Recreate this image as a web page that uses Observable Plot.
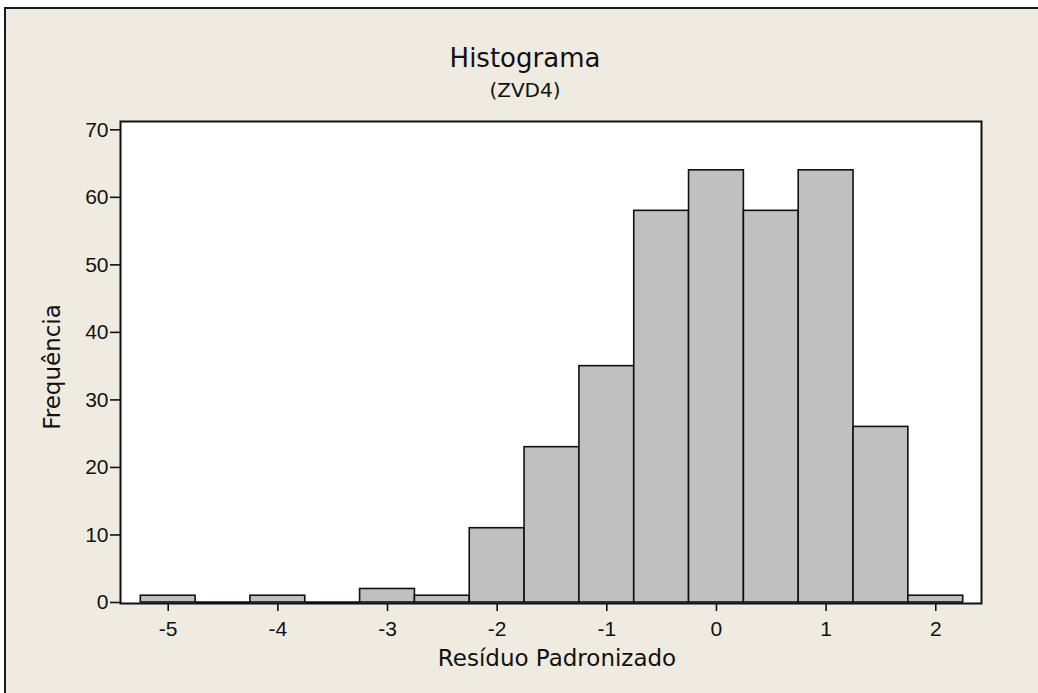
<!DOCTYPE html>
<html>
<head>
<meta charset="utf-8">
<script src="https://cdn.jsdelivr.net/npm/d3@7"></script>
<script src="https://cdn.jsdelivr.net/npm/@observablehq/plot@0.6"></script>
<style>
  html, body { margin: 0; padding: 0; background: #ffffff; }
  #page { position: relative; width: 1038px; height: 693px; overflow: hidden; }
  #panel { position: absolute; left: 4px; top: 7px; width: 1100px; height: 760px;
           background: #efebe0; border-left: 2px solid #1a1a1a; border-top: 2px solid #1a1a1a; box-sizing: border-box; }
  #chart { position: absolute; left: 0; top: 0; }
  .txt { position: absolute; font-family: "DejaVu Sans", sans-serif; color: #111; line-height: 1; white-space: nowrap; }
  #title { font-size: 26px; left: 525px; top: 45px; transform: translateX(-50%); }
  #subtitle { font-size: 20px; left: 525px; top: 80px; transform: translateX(-50%); }
  #xlabel { font-size: 23px; left: 557px; top: 647px; transform: translateX(-50%); }
  #ylabel { font-size: 23px; left: 52px; top: 367px; transform: translate(-50%, -50%) rotate(-90deg); }
</style>
</head>
<body>
<div id="page">
  <div id="panel"></div>
  <div id="chart"></div>
  <div class="txt" id="title">Histograma</div>
  <div class="txt" id="subtitle">(ZVD4)</div>
  <div class="txt" id="xlabel">Resíduo Padronizado</div>
  <div class="txt" id="ylabel">Frequência</div>
</div>
<script>
// Data (bin centers, width 0.5)
const binCenters = [-5, -4.5, -4, -3.5, -3, -2.5, -2, -1.5, -1, -0.5, 0, 0.5, 1, 1.5, 2];
const counts     = [ 1,  0,    1,  0,    2,  1,   11,  23,  35,  58,  64, 58, 64, 26,  1];
const binWidth = 0.5;
const xTicks = [-5, -4, -3, -2, -1, 0, 1, 2];
const yTicks = [0, 10, 20, 30, 40, 50, 60, 70];

const bins = binCenters.map((c, i) => ({x1: c - binWidth / 2, x2: c + binWidth / 2, count: counts[i]}));
const nonZero = bins.filter(d => d.count > 0);
const zero = bins.filter(d => d.count === 0);

const chart = Plot.plot({
  width: 1038,
  height: 693,
  marginLeft: 120,
  marginRight: 57,
  marginTop: 121,
  marginBottom: 90,
  style: {background: "transparent", fontFamily: "'Liberation Sans', sans-serif", fontSize: "21px", color: "#111"},
  x: {domain: [-5.435, 2.417], label: null},
  y: {domain: [-0.15, 71.23], label: null},
  marks: [
    Plot.frame({fill: "white", stroke: null}),
    Plot.rect(nonZero, {x1: "x1", x2: "x2", y1: 0, y2: "count", fill: "#c0c0c0", stroke: "#111", strokeWidth: 1.6}),
    Plot.ruleY(zero, {x1: "x1", x2: "x2", y: 0, stroke: "#111", strokeWidth: 2.5}),
    Plot.frame({stroke: "#111", strokeWidth: 2}),
    Plot.axisX({ticks: xTicks, tickSize: 8, tickPadding: 10, tickFormat: d => d < 0 ? "-" + Math.abs(d) : String(d), strokeWidth: 1.6, label: null}),
    Plot.axisY({ticks: yTicks, tickSize: 10, tickPadding: 2, strokeWidth: 1.6, label: null})
  ]
});
document.getElementById("chart").appendChild(chart);
</script>
</body>
</html>
